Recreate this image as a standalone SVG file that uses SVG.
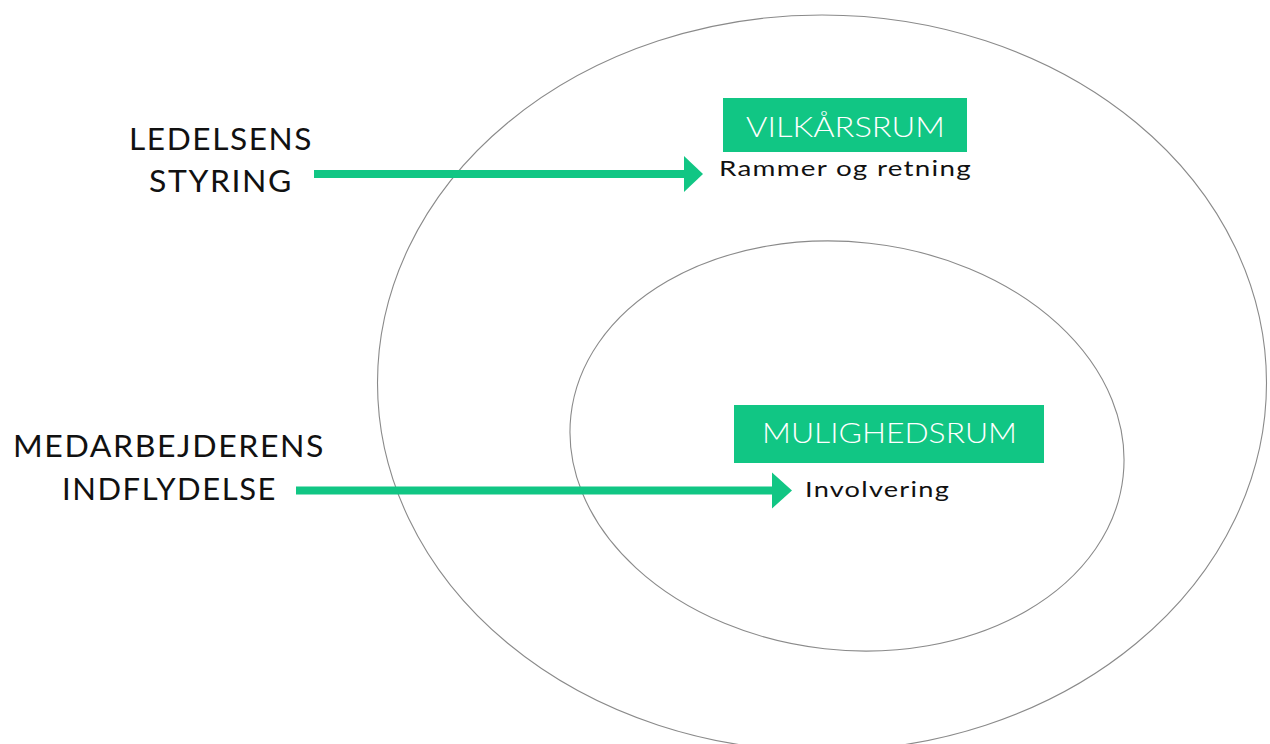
<svg xmlns="http://www.w3.org/2000/svg" width="1270" height="744" viewBox="0 0 1270 744">
<style>
.ring{fill:none;stroke:#8a8a8a;stroke-width:1.1}
.box{fill:#11c684}
.lbl{font-family:Lato,"Noto Sans","Liberation Sans",sans-serif;fill:#111;font-size:30px;letter-spacing:1.5px}
.tag{font-family:Lato,"Noto Sans","Liberation Sans",sans-serif;fill:#fff;font-size:27px;font-weight:300}
.sub{font-family:Lato,"Noto Sans","Liberation Sans",sans-serif;fill:#111;font-size:22px;letter-spacing:1px}
.arr{stroke:#11c684;stroke-width:8;fill:none}
.head{fill:#11c684}
</style>
<g id="outer-ring"><ellipse class="ring" cx="822" cy="383" rx="444.5" ry="368"/></g>
<g id="inner-ring"><ellipse class="ring" cx="847" cy="446" rx="277.8" ry="204" transform="rotate(6.3 847 446)"/></g>
<g id="ledelsens">
<text class="lbl" x="129" y="150" textLength="184" lengthAdjust="spacingAndGlyphs">LEDELSENS</text>
<text class="lbl" x="149" y="192" textLength="144" lengthAdjust="spacingAndGlyphs">STYRING</text>
</g>
<g id="medarbejderens">
<text class="lbl" x="13" y="457" textLength="312" lengthAdjust="spacingAndGlyphs">MEDARBEJDERENS</text>
<text class="lbl" x="62" y="500" textLength="215" lengthAdjust="spacingAndGlyphs">INDFLYDELSE</text>
</g>
<g id="vilkaarsrum">
<rect class="box" x="723" y="98" width="244" height="54"/>
<text class="tag" x="746" y="137" textLength="199" lengthAdjust="spacingAndGlyphs">VILKÅRSRUM</text>
<text class="sub" x="719" y="176" textLength="253" lengthAdjust="spacingAndGlyphs">Rammer og retning</text>
</g>
<g id="mulighedsrum">
<rect class="box" x="734" y="405" width="310" height="58"/>
<text class="tag" x="762" y="443" textLength="255" lengthAdjust="spacingAndGlyphs">MULIGHEDSRUM</text>
<text class="sub" x="805" y="497" textLength="145" lengthAdjust="spacingAndGlyphs">Involvering</text>
</g>
<g id="connectors">
<line class="arr" x1="314" y1="174" x2="686" y2="174"/>
<polygon class="head" points="684,156 703,174 684,192"/>
<line class="arr" x1="296" y1="490.5" x2="774" y2="490.5"/>
<polygon class="head" points="772,472.5 792,490.5 772,508.5"/>
</g>
</svg>
